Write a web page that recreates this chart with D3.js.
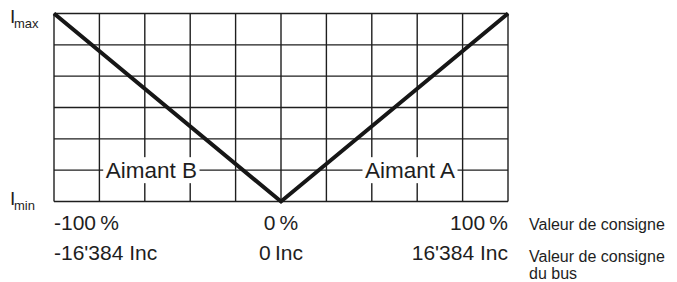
<!DOCTYPE html>
<html><head><meta charset="utf-8">
<script src="https://cdn.jsdelivr.net/npm/d3@7"></script>
<style>
html,body{margin:0;padding:0;background:#fff;}
svg{display:block;font-family:"Liberation Sans",Arial,Helvetica,sans-serif;}
</style></head>
<body>
<svg id="c" width="677" height="282"></svg>
<script>
// Data
const setpointPct = [-100, 0, 100];          // Valeur de consigne (%)
const current = [1, 0, 1];                    // I (normalised: 0 = Imin, 1 = Imax)
const pctLabels = ["-100\u2009%", "0\u2009%", "100\u2009%"];
const incLabels = ["-16'384 Inc", "0\u2009Inc", "16'384 Inc"];
const xGrid = [-100, -80, -60, -40, -20, 0, 20, 40, 60, 80, 100];
const yGrid = [0, 1/6, 2/6, 3/6, 4/6, 5/6, 1];
const magnetLabels = [{text: "Aimant B", x: -37, y: 1/6, anchor: "end"},
                      {text: "Aimant A", x: 37, y: 1/6, anchor: "start"}];
const axisNames = ["Valeur de consigne", "Valeur de consigne", "du bus"];

const svg = d3.select("#c");
const x = d3.scaleLinear().domain([-100, 100]).range([54, 508]);
const y = d3.scaleLinear().domain([0, 1]).range([201.5, 13.5]);
const ink = "#1e1e1e";

// grid
const g = svg.append("g");
g.selectAll("line.v").data(xGrid).join("line")
  .attr("x1", d => x(d)).attr("x2", d => x(d))
  .attr("y1", y(0)).attr("y2", y(1))
  .attr("stroke", ink).attr("stroke-width", 1.4);
g.selectAll("line.h").data(yGrid).join("line")
  .attr("x1", x(-100)).attr("x2", x(100))
  .attr("y1", d => y(d)).attr("y2", d => y(d))
  .attr("stroke", ink).attr("stroke-width", 1.4);

// magnet labels with white background
magnetLabels.forEach(m => {
  const t = svg.append("text")
    .attr("x", x(m.x)).attr("y", y(m.y)).attr("dy", "0.36em")
    .attr("text-anchor", m.anchor)
    .attr("font-size", 22.5).attr("fill", ink).text(m.text);
  const bb = t.node().getBBox();
  svg.insert("rect", "text")
    .attr("x", bb.x - 2.5).attr("y", y(m.y) - 13)
    .attr("width", bb.width + 5).attr("height", 26)
    .attr("fill", "#fff");
});

// V line
const line = d3.line().x((d, i) => x(setpointPct[i])).y(d => y(d));
svg.append("path").datum(current).attr("d", line)
  .attr("fill", "none").attr("stroke", "#161616").attr("stroke-width", 4)
  .attr("stroke-linejoin", "miter");

// x tick labels
const anchors = ["start", "middle", "end"];
svg.selectAll("text.pct").data(pctLabels).join("text")
  .attr("x", (d, i) => x(setpointPct[i])).attr("y", 230)
  .attr("text-anchor", (d, i) => anchors[i])
  .attr("font-size", 21).attr("fill", ink).text(d => d);
svg.selectAll("text.inc").data(incLabels).join("text")
  .attr("x", (d, i) => x(setpointPct[i])).attr("y", 260)
  .attr("text-anchor", (d, i) => anchors[i])
  .attr("font-size", 21).attr("fill", ink).text(d => d);

// axis names
const nameY = [230, 262, 279];
svg.selectAll("text.name").data(axisNames).join("text")
  .attr("x", 529).attr("y", (d, i) => nameY[i])
  .attr("font-size", 16).attr("fill", ink).text(d => d);

// Imax / Imin
[{sub: "max", v: 1, base: 23, subBase: 28}, {sub: "min", v: 0, base: 205, subBase: 210}].forEach(o => {
  const t = svg.append("text").attr("x", 10).attr("y", o.base).attr("fill", ink);
  t.append("tspan").attr("font-size", 19).text("I");
  t.append("tspan").attr("font-size", 13).attr("x", 14).attr("y", o.subBase).text(o.sub);
});
</script>
</body></html>
